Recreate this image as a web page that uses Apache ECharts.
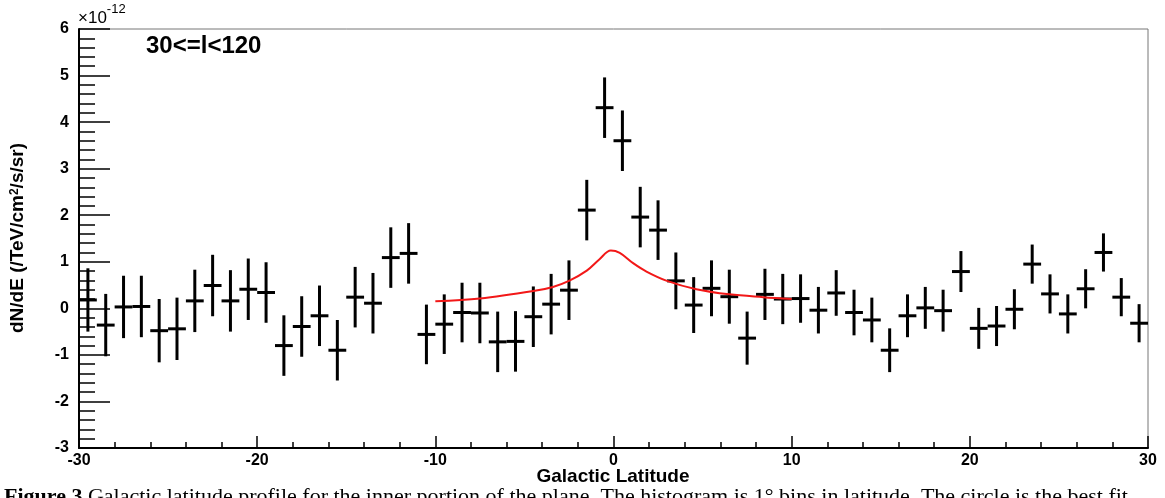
<!DOCTYPE html>
<html>
<head>
<meta charset="utf-8">
<script src="https://cdn.jsdelivr.net/npm/echarts@6/dist/echarts.min.js"></script>
<style>
  html, body { margin: 0; padding: 0; background: #fff; }
  #chart { width: 1165px; height: 498px; }
</style>
</head>
<body>
<div id="chart"></div>
<script>
// bin centres (Galactic latitude, deg)
const latitudes = [
  -29.5, -28.5, -27.5, -26.5, -25.5, -24.5, -23.5, -22.5, -21.5, -20.5,
  -19.5, -18.5, -17.5, -16.5, -15.5, -14.5, -13.5, -12.5, -11.5, -10.5,
  -9.5, -8.5, -7.5, -6.5, -5.5, -4.5, -3.5, -2.5, -1.5, -0.5,
  0.5, 1.5, 2.5, 3.5, 4.5, 5.5, 6.5, 7.5, 8.5, 9.5,
  10.5, 11.5, 12.5, 13.5, 14.5, 15.5, 16.5, 17.5, 18.5, 19.5,
  20.5, 21.5, 22.5, 23.5, 24.5, 25.5, 26.5, 27.5, 28.5, 29.5
];

// dN/dE in units of 1e-12 /TeV/cm2/s/sr
const fluxValues = [
  0.18, -0.36, 0.03, 0.04, -0.48, -0.44, 0.16, 0.49, 0.16, 0.41,
  0.34, -0.80, -0.39, -0.16, -0.90, 0.24, 0.11, 1.09, 1.18, -0.56,
  -0.34, -0.09, -0.10, -0.72, -0.71, -0.18, 0.09, 0.39, 2.11, 4.31,
  3.60, 1.96, 1.68, 0.59, 0.07, 0.43, 0.25, -0.64, 0.30, 0.20,
  0.21, -0.04, 0.33, -0.09, -0.25, -0.90, -0.16, 0.01, -0.05, 0.79,
  -0.43, -0.38, -0.02, 0.95, 0.31, -0.12, 0.42, 1.20, 0.24, -0.32
];

const fluxErrors = [
  0.68, 0.67, 0.67, 0.66, 0.68, 0.67, 0.67, 0.66, 0.66, 0.66,
  0.65, 0.65, 0.65, 0.65, 0.65, 0.65, 0.65, 0.65, 0.65, 0.64,
  0.64, 0.64, 0.65, 0.65, 0.65, 0.65, 0.65, 0.64, 0.65, 0.65,
  0.65, 0.65, 0.64, 0.61, 0.60, 0.60, 0.58, 0.57, 0.55, 0.54,
  0.52, 0.50, 0.49, 0.49, 0.48, 0.47, 0.46, 0.45, 0.45, 0.44,
  0.44, 0.43, 0.43, 0.42, 0.42, 0.42, 0.42, 0.41, 0.41, 0.41
];

const binHalfWidth = 0.5;

// model curve (red)
const modelX = [-10, -7.5, -4.5, -3.4, -2.5, -1.5, -0.8, -0.15, 0.35, 1.1, 1.85, 3.0, 4.65, 6.5, 8.4, 10];
const modelY = [0.15, 0.21, 0.37, 0.46, 0.59, 0.81, 1.05, 1.24, 1.19, 0.97, 0.79, 0.59, 0.41, 0.30, 0.24, 0.20];

const xTicks = [-30, -20, -10, 0, 10, 20, 30];
const yTicks = [-3, -2, -1, 0, 1, 2, 3, 4, 5, 6];

const FONT = 'Liberation Sans, Arial, Helvetica, sans-serif';
const SERIF = 'Liberation Serif, Times New Roman, serif';

const points = latitudes.map((x, i) => [x, fluxValues[i], fluxErrors[i]]);

const chart = echarts.init(document.getElementById('chart'), null, { renderer: 'canvas' });

chart.setOption({
  backgroundColor: '#fff',
  animation: false,
  grid: {
    left: 79, right: 17, top: 29, bottom: 50,
    show: true, borderColor: '#777', borderWidth: 1, backgroundColor: 'transparent'
  },
  xAxis: {
    type: 'value',
    min: xTicks[0], max: xTicks[xTicks.length - 1], interval: 10,
    axisLine: { onZero: false, lineStyle: { color: '#000', width: 2 } },
    axisTick: { inside: true, length: 12, lineStyle: { color: '#000', width: 1.5 } },
    minorTick: { show: true, splitNumber: 5, length: 6, lineStyle: { color: '#000', width: 1.5 } },
    splitLine: { show: false },
    axisLabel: { color: '#000', fontFamily: FONT, fontWeight: 'bold', fontSize: 16, margin: 5 }
  },
  yAxis: {
    type: 'value',
    min: yTicks[0], max: yTicks[yTicks.length - 1], interval: 1,
    axisLine: { show: true, onZero: false, lineStyle: { color: '#000', width: 2 } },
    axisTick: { inside: true, length: 31, lineStyle: { color: '#000', width: 1.5 } },
    minorTick: { show: true, splitNumber: 5, length: 16, lineStyle: { color: '#000', width: 1.5 } },
    splitLine: { show: false },
    axisLabel: { color: '#000', fontFamily: FONT, fontWeight: 'bold', fontSize: 16, margin: 10 }
  },
  graphic: [
    {
      type: 'text', left: 78, top: 3,
      style: {
        text: '{a|×10}{b|-12}',
        rich: {
          a: { fontFamily: FONT, fontSize: 17, fill: '#000', padding: [7, 0, 0, 0] },
          b: { fontFamily: FONT, fontSize: 13, fill: '#000', verticalAlign: 'top' }
        }
      }
    },
    {
      type: 'text', left: 146, top: 34,
      style: { text: '30<=l<120', fontFamily: FONT, fontWeight: 'bold', fontSize: 24, fill: '#000' }
    },
    {
      type: 'text', x: 18, y: 238, rotation: Math.PI / 2,
      style: {
        text: 'dN/dE (/TeV/cm{s|2}/s/sr)',
        fontFamily: FONT, fontWeight: 'bold', fontSize: 19, fill: '#000',
        align: 'center', verticalAlign: 'middle',
        rich: { s: { fontFamily: FONT, fontWeight: 'bold', fontSize: 12, fill: '#000', verticalAlign: 'top', padding: [0, 0, 7, 0] } }
      }
    },
    {
      type: 'text', x: 613, y: 477,
      style: {
        text: 'Galactic Latitude', fontFamily: FONT, fontWeight: 'bold', fontSize: 19, fill: '#000',
        align: 'center', verticalAlign: 'middle'
      }
    },
    {
      type: 'text', left: 4, top: 486,
      style: {
        text: '{b|Figure 3} Galactic latitude profile for the inner portion of the plane. The histogram is 1° bins in latitude. The circle is the best fit',
        fontFamily: SERIF, fontSize: 22, fill: '#000',
        rich: { b: { fontFamily: SERIF, fontWeight: 'bold', fontSize: 22, fill: '#000' } }
      }
    }
  ],
  series: [
    {
      type: 'custom',
      name: 'data',
      data: points,
      renderItem: function (params, api) {
        const x = api.value(0), y = api.value(1), e = api.value(2);
        const top = api.coord([x, y + e]);
        const bot = api.coord([x, y - e]);
        const l = api.coord([x - binHalfWidth, y]);
        const r = api.coord([x + binHalfWidth, y]);
        const style = { stroke: '#000', lineWidth: 3 };
        return {
          type: 'group',
          children: [
            { type: 'line', shape: { x1: top[0], y1: top[1], x2: bot[0], y2: bot[1] }, style: style },
            { type: 'line', shape: { x1: l[0], y1: l[1], x2: r[0], y2: r[1] }, style: style }
          ]
        };
      },
      clip: true,
      z: 3
    },
    {
      type: 'line',
      name: 'model',
      data: modelX.map((x, i) => [x, modelY[i]]),
      showSymbol: false,
      smooth: 0.35,
      lineStyle: { color: '#f21818', width: 2 },
      z: 4
    }
  ]
});
</script>
</body>
</html>
